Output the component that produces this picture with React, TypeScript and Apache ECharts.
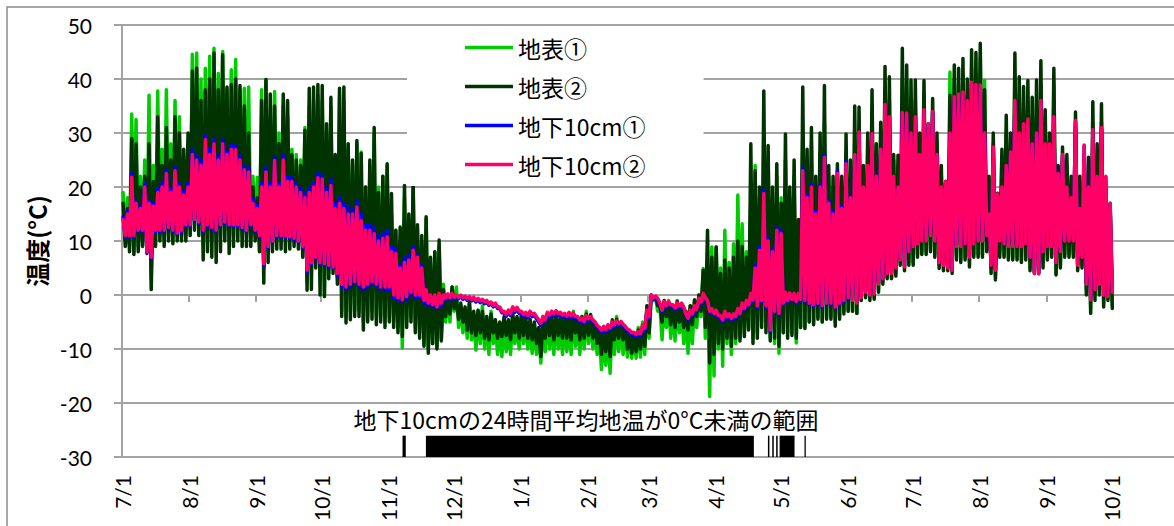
import React, { useEffect, useRef } from "react";
import * as echarts from "echarts";

// day index: 0 = 7/1 (year 1); one hi/lo pair per 2 days (k -> days 2k, 2k+1)
const MONTH_DAYS = [0, 31, 62, 92, 123, 153, 184, 215, 243, 274, 304, 335, 365, 396, 427, 457];
const MONTH_LABELS = ["7/1", "8/1", "9/1", "10/1", "11/1", "12/1", "1/1", "2/1", "3/1", "4/1", "5/1", "6/1", "7/1", "8/1", "9/1", "10/1"];
const Y_TICKS = [-30, -20, -10, 0, 10, 20, 30, 40, 50];

const SERIES_NAMES = ["地表①", "地表②", "地下10cm①", "地下10cm②"];
const SERIES_COLORS = ["#00cc00", "#003300", "#0000ff", "#ff0066"];

// 地表①
const G_HI = [
  19, 18, 33.5, 32.5, 22, 25, 37, 24, 37.8, 27, 38, 28, 36, 33, 24, 27,
  44.6, 44.8, 40, 42, 44.2, 45.7, 41, 45.1, 38, 41.7, 43.6, 38, 38.3, 38.5, 22,
  21.8, 38, 39.9, 32, 37.7, 30, 35, 33, 27, 26, 25, 31, 35, 36, 37,
  36, 30, 35, 25, 37, 36, 27, 24, 28, 26.5, 20, 24, 30, 20, 22, 24,
  15, 12, 10, 18, 14, 20, 12, 10, 14, 6, 8, 9, 2, 0, 1.5,
  1.5, -2, -3, -1, -4, -3, -2, -4, -3, -5, -6, -5, -6, -4, -5,
  -4, -5, -6, -6, -7, -5, -4, -5, -4, -5, -4, -5, -3, -5, -4, -3,
  -4, -6, -7, -8, -7, -5, -4, -5, -6, -7, -7, -6, -5, -2,
  0, -0.5, -2, -1, -1, -2, -1, -2, -3, -2, -1, 0, 4.9, 3, 8.9,
  8.9, 5, 12, 6, 9.5, 18.5, 13.2, 8, 18, 24, 18, 30, 25, 15, 22, 18,
  25, 18, 22, 12, 30, 25, 28, 20, 26, 32, 22, 20, 22, 20, 26,
  22, 30, 30, 22, 27, 34, 26, 30, 38, 36, 25, 24, 40, 40, 36,
  36, 28, 37, 30, 34, 28, 22, 21, 41.3, 40, 39, 41, 37, 42, 41,
  44, 39.7, 20, 28, 18.9, 25, 30, 28, 40, 37, 34, 36, 33, 36, 39,
  31, 27, 39, 22, 25, 24, 20, 31, 20, 24, 22, 32, 25, 32, 18, 16,
];
const G_LO = [
  10, 9, 8, 9, 10, 9, 3, 10, 11, 10, 11, 10, 11, 11, 11, 12,
  13, 12, 9, 10, 10, 11, 11, 12, 10, 11, 12, 11, 11, 11, 12,
  10, 5, 8, 9, 10, 10, 10, 10, 10, 10, 8, 2.5, 4, 6, 3,
  0, 4, 5, 3, -3, -4, -3, -3, -3, -5, -4, -3, -4, -4, -5, -4,
  -5, -6, -9.8, -5, -4, -6, -7, -9, -10, -9, -9.5, -8, -5, -5, -3,
  -6, -7, -8, -8.3, -10.2, -9, -10, -11, -9, -11, -11.4, -10.5, -11, -9, -10,
  -9, -10, -10.8, -11, -12.6, -10.5, -10, -11, -10, -11, -10.5, -11, -9.5, -11, -10, -9,
  -10, -11, -13.8, -13, -14.5, -11, -10.5, -11, -11.5, -11.7, -11.7, -11.5, -11, -8,
  -1, -3, -8.3, -6, -8, -8.5, -7, -9, -10.8, -9, -6, -4, -8, -18.8, -15,
  -10, -13.2, -9, -11, -9, -8, -7, -6, -8, -7, -5, -6, -8, -9, -10.8, -7,
  -7, -7, -8.9, -6, -6, -5, -5, -4, -5, -4, -4, -5, -4, -3, -3,
  -3, -3.4, -1, 0, -0.4, -0.4, 1, 2.5, 3.3, 3.3, 4, 6, 5, 6, 6,
  7.5, 8, 8, 8.5, 7.5, 5.5, 5, 5, 4.5, 7, 6.5, 7, 6, 7.5, 7.5,
  7.5, 8.5, 5, 3.5, 8, 7.5, 7, 7, 7, 6.5, 7, 5, 4.5, 4.5, 6,
  7, 7.5, 4, 5.5, 7.5, 7.5, 7.5, 5, 5.5, 1, -2.5, 0, 1, -1.5, -0.5, -2,
];

// 地表②
const D_HI = [
  17, 16, 29, 28, 20, 22, 28, 21, 33, 24, 31, 25, 33, 30, 27, 30,
  41.5, 42, 36, 38, 40, 44.8, 38, 44.5, 38.5, 39, 40, 38.8, 35, 30, 20,
  18, 36, 39.9, 37.2, 35, 28, 37.2, 36, 26, 25, 24, 30.5, 38.3, 38.5, 39,
  38.8, 31.7, 36.6, 26, 38.3, 38.5, 28, 25, 28.6, 26.2, 20, 25, 31, 19, 22, 24.3,
  18.8, 12, 12.6, 20.3, 15, 21.2, 13, 11, 14.5, 7, 8, 10.2, 1, -0.5, 1.5,
  -1, -1.5, -2.2, -1.5, -3, -2.8, -3, -4, -3.5, -4.6, -5, -4, -4.6, -3.4, -4,
  -3.5, -4, -4.5, -5, -6, -4, -3.5, -4, -3.4, -4, -3.6, -4, -3.4, -4.6, -4, -3.5,
  -3.6, -5, -6, -6.5, -6, -4.6, -4.5, -5, -6, -7, -7, -6.5, -6, -2,
  0, -0.3, -2, -1, -1.5, -2, -1.2, -2, -3, -2, -0.9, 0, 4.6, 12, 7,
  8.9, 4, 6.5, 5, 7, 10, 9, 7, 28, 23, 20, 37.8, 27.7, 20, 24.3, 17,
  29.8, 20, 25, 14, 38.5, 27, 31, 22, 30, 38.8, 24, 22, 24.3, 22, 29.8,
  25, 35, 34.8, 24, 30, 38, 28, 32, 42.3, 40.4, 26, 25.9, 45.7, 42.6, 39.8,
  39.8, 30, 39.7, 31.7, 36.4, 30, 24, 21, 37, 42.6, 42, 43.8, 40, 45.4, 44.9,
  46.6, 38, 22, 30, 18.8, 27, 33.3, 30, 44.8, 40.4, 38.6, 39.7, 36.6, 39.8, 43.4,
  34.3, 30, 42, 24, 27.4, 26, 22, 33.9, 22, 26, 25.5, 35.8, 28, 35.4, 20, 17,
];
const D_LO = [
  9, 8, 7.5, 8, 9, 8, 1, 9, 10, 9, 10, 9.5, 10, 10, 10, 11,
  12, 11, 6.5, 8, 7, 6, 8, 10, 7.7, 9, 10, 9, 9, 9, 10,
  8, 2.2, 6, 8, 8.5, 8.5, 8, 8.5, 9, 8.5, 7, 0.9, 1, 5, 0,
  -0.3, 3, 4, 2, -4, -5.2, -4.6, -4, -4, -6.5, -5, -4.5, -5.5, -5, -6, -5,
  -6, -7, -7.7, -6, -5, -7, -8, -9.5, -10.8, -9, -10, -8.5, -4, -3.5, -2.5,
  -4.5, -5, -6.5, -7, -7.5, -7, -8, -8.3, -7, -8, -7.7, -7.5, -8.3, -7, -8,
  -7.5, -8, -8.3, -9, -11.4, -8, -7.5, -8.3, -7.5, -8, -8, -8.3, -7, -8.3, -8, -7.5,
  -8, -9, -11, -10.5, -11.4, -8.3, -8, -8.3, -10, -10.8, -10.5, -10, -9.5, -7,
  -0.8, -2, -5, -4, -5.5, -6, -5, -6, -6.5, -5.5, -4, -3, -6, -12.6, -11,
  -9, -10, -8, -9.5, -8, -8.5, -7.7, -6.5, -9, -8, -6, -7, -8.5, -8, -9.5, -7,
  -8, -7.5, -8, -6, -6.2, -5, -5.5, -4.5, -5, -4.5, -4.5, -5.8, -4.5, -3.5, -3,
  -3, -3.4, -1, -0.5, -1, -0.8, 0.5, 2, 3, 3, 3.5, 5.5, 4.5, 5.5, 5.5,
  7, 7.5, 7.5, 8, 7, 4.9, 4.5, 4.5, 4, 6.5, 6, 6.5, 5.2, 7, 7,
  7, 8, 4, 2.8, 7, 7, 6.5, 6.5, 6.5, 6, 6.5, 4.5, 4, 4, 5,
  6.5, 7, 3.7, 5, 7, 7, 7, 4.5, 5, 0, -3.4, -1, 0, -2.2, -1, -2.5,
];

// 地下10cm①
const B_HI = [
  14.5, 15.5, 22.5, 17.5, 16.5, 20.8, 17.5, 17, 19.7, 20.7, 23.2, 19.6, 23.7, 20.6, 19.2, 20.7,
  27, 26, 25, 29.5, 27, 28.8, 25.8, 28.8, 26.8, 27.8, 27.6, 25.8, 24, 23.6, 17.8,
  16.8, 20.8, 23.6, 20.8, 25.6, 20.8, 25.8, 21.8, 21.8, 20.8, 19.8, 18.8, 19.8, 20.8, 22.5,
  22.3, 20, 21.5, 17, 18, 17, 16.5, 16, 17.5, 15, 13, 13, 12.5, 11, 11.5, 12,
  9, 8.5, 5.5, 7, 7.5, 9, 7.5, 5.5, 1, -0.3, -0.5, 0, -0.3, 0, 0,
  -0.3, -0.3, -0.5, -0.6, -0.7, -0.9, -1.1, -1.3, -1.6, -1.8, -2.5, -3.3, -3.1, -2.5, -2.6,
  -3.3, -3.5, -3.3, -3.7, -5, -4.4, -3.5, -3.3, -3.2, -3.5, -3.7, -3.5, -3.7, -4.3, -4.6, -4.1,
  -4.3, -5.3, -6.3, -6.1, -5.8, -5.3, -5.1, -5.2, -6.1, -6.8, -7.2, -7.1, -5.8, -3.1,
  -0.3, -0.5, -1.8, -1.5, -1.5, -2.1, -1.8, -1.8, -3.8, -3.1, -2.3, -0.9, 0, -1.3, -2.8,
  -3.1, -4.1, -3.3, -3.8, -3.8, -2.8, -1.8, -1.3, 0, 5.5, 9, 19.5, 10.5, 8.5, 12.5, 12,
  0.3, 0.2, 0, 0, 23.5, 18.5, 20.5, 15.5, 20.5, 26, 17.5, 15.5, 23, 16.5, 24.7,
  17.8, 25.8, 30, 19.8, 23.8, 29.7, 21.8, 26.8, 35, 32.8, 21.8, 19.8, 33.5, 33.5, 29.8,
  32.8, 25.8, 34, 31.5, 33.8, 25.8, 19.8, 20.8, 29.8, 36.5, 37, 37.4, 35.8, 39.2, 38.8,
  38.7, 29.8, 14.8, 27.2, 18.5, 19.8, 23.8, 26.3, 35.8, 29.8, 31.5, 32.4, 27.8, 29.8, 35.8,
  27.8, 27.8, 32.8, 22.3, 25.8, 19.8, 17.8, 32, 15.8, 27.6, 19.8, 30.4, 21.8, 30.8, 21.8, 16.8,
];
const B_LO = [
  10.7, 10.7, 10.7, 11.7, 11.7, 7.7, 6.7, 11.7, 11.7, 11.7, 12.2, 11.7, 11.2, 11.7, 12.7, 12.7,
  13.7, 13.2, 11.7, 12.7, 12.2, 11.7, 12.7, 13.2, 12.7, 12.7, 12.7, 12.2, 11.7, 12.7, 11.7,
  10.7, 5.5, 8.7, 9.7, 10.7, 10.7, 10.7, 10.5, 10.2, 9.7, 8.7, 4.3, 5.7, 6.7, 5.7,
  5.5, 5, 5, 3.5, 1.5, 1, 1.5, 2, 1.5, 1, 1.5, 2, 1.5, 1, 1, 1,
  -0.5, -1, -1.3, -1, 0, -0.5, -0.5, -1.5, -2, -2.2, -2.5, -2, -1, -0.8, -0.7,
  -0.7, -0.8, -1, -1.1, -1.3, -1.4, -1.6, -1.9, -2.2, -2.5, -3.3, -4, -3.8, -3.2, -3.4,
  -4, -4.2, -4, -4.4, -5.6, -5, -4.1, -3.9, -3.8, -4.1, -4.3, -4.2, -4.4, -5, -5.3, -4.8,
  -5, -6, -6.9, -6.8, -6.5, -5.9, -5.7, -5.8, -6.7, -7.4, -7.7, -7.6, -6.6, -4.4,
  -0.8, -0.9, -3.1, -2.3, -2.1, -2.7, -2.3, -2.5, -4.6, -3.8, -2.9, -1.6, -0.8, -3.3, -3.7,
  -4.1, -5, -4.4, -4.6, -4.4, -3.7, -2.8, -2.1, -1.2, -2.3, -1.3, -2.3, -6.8, -3.3, -3.7, -1.8,
  -1.2, -1, -1.5, -1.1, -1.3, -1.8, -2, -1.8, -2.3, -1.8, -1.8, -2.5, -1.8, -1.3, -0.8,
  -0.8, -1.3, -0.3, 0.7, 0.2, 0.4, 2.2, 3.2, 4.2, 4.2, 5.2, 6.7, 5.4, 8.2, 9.2,
  9.7, 10.2, 10.2, 11.2, 10.2, 6.2, 5.7, 5.2, 4.8, 9.2, 9.2, 9.7, 7.2, 9.7, 10.2,
  10.2, 11.2, 5.7, 4.8, 10.2, 9.7, 9.2, 9.2, 9.2, 9.2, 9.7, 7.2, 4.2, 4.1, 8.2,
  9.2, 9.2, 6.2, 8.2, 10.2, 10.2, 10.2, 5.7, 7.2, 2.2, -0.7, 1.2, 2.2, 0.2, -0.1, 0.7,
];

// 地下10cm②
const P_HI = [
  14, 15, 21.8, 17, 16, 20, 17, 16.5, 19, 20, 22.5, 19, 23, 20, 18.5, 20,
  26, 25, 24, 28.8, 26, 28, 25, 28, 26, 27, 26.9, 25, 23.2, 22.8, 17,
  16, 20, 22.8, 20, 24.9, 20, 25, 21, 21, 20, 19, 18, 19, 20, 21.7,
  21.5, 19, 20.3, 16, 17, 16, 15, 15, 16.3, 13.8, 12, 12, 11.4, 10, 10.5, 10.8,
  8, 7.7, 5, 6, 6.5, 8.3, 7, 5, 1, 0, 0, 0.3, 0, 0.2, 0.3,
  0, 0, -0.2, -0.3, -0.4, -0.6, -0.8, -1, -1.3, -1.5, -2.2, -3, -2.8, -2.2, -2.3,
  -3, -3.2, -3, -3.4, -4.6, -4, -3.2, -3, -2.9, -3.2, -3.4, -3.2, -3.4, -4, -4.3, -3.8,
  -4, -5, -6, -5.8, -5.5, -5, -4.8, -4.9, -5.8, -6.5, -6.9, -6.8, -5.5, -2.8,
  0, -0.2, -1.5, -1.2, -1.2, -1.8, -1.5, -1.5, -3.5, -2.8, -2, -0.6, 0.3, -1, -2.5,
  -2.8, -3.8, -3, -3.5, -3.5, -2.5, -1.5, -1, 0.3, 5, 8.3, 18.8, 10, 8, 12, 11.4,
  0.5, 0.4, 0.3, 0.3, 23, 18, 20, 15, 20, 25.5, 17, 15, 22.5, 16, 24.3,
  18, 26, 30.2, 20, 24, 29.9, 22, 27, 35.3, 33, 22, 20, 33.8, 33.7, 30,
  33, 26, 34.3, 31.7, 34, 26, 20, 21, 30, 36.7, 37.2, 37.6, 36, 39.4, 39,
  38.9, 30, 15, 27.4, 18.7, 20, 24, 26.5, 36, 30, 31.7, 32.6, 28, 30, 36,
  28, 28, 33, 22.5, 26, 20, 18, 32.3, 16, 27.8, 20, 30.6, 22, 31, 22, 17,
];
const P_LO = [
  11, 11, 11, 12, 12, 8, 7, 12, 12, 12, 12.5, 12, 11.5, 12, 13, 13,
  14, 13.5, 12, 13, 12.5, 12, 13, 13.5, 13, 13, 13, 12.5, 12, 13, 12,
  11, 5.8, 9, 10, 11, 11, 11, 10.8, 10.5, 10, 9, 4.6, 6, 7, 6,
  5.8, 5.5, 5.2, 4, 2, 1.5, 2, 2.5, 2, 1.5, 2, 2.5, 2, 1.5, 1.5, 1.5,
  0, -0.5, -0.9, -0.3, 0.5, 0, 0, -1, -1.5, -1.8, -2.2, -1.5, -0.6, -0.5, -0.4,
  -0.4, -0.5, -0.7, -0.8, -1, -1.1, -1.3, -1.6, -1.9, -2.2, -3, -3.6, -3.4, -2.8, -3,
  -3.6, -3.8, -3.6, -4, -5.2, -4.6, -3.7, -3.5, -3.4, -3.7, -3.9, -3.8, -4, -4.6, -4.9, -4.4,
  -4.6, -5.6, -6.5, -6.4, -6.1, -5.5, -5.3, -5.4, -6.3, -7, -7.3, -7.2, -6.2, -4,
  -0.5, -0.6, -2.8, -2, -1.8, -2.4, -2, -2.2, -4.3, -3.5, -2.6, -1.3, -0.5, -3, -3.4,
  -3.8, -4.6, -4, -4.3, -4, -3.4, -2.5, -1.8, -0.9, -2, -1, -2, -6.5, -3, -3.4, -1.5,
  -1, -0.8, -1.2, -0.8, -1, -1.5, -1.8, -1.5, -2, -1.5, -1.5, -2.2, -1.5, -1, -0.5,
  -1, -1.5, -0.5, 0.5, 0, 0.2, 2, 3, 4, 4, 5, 6.5, 5.2, 8, 9,
  9.5, 10, 10, 11, 10, 6, 5.5, 5, 4.6, 9, 9, 9.5, 7, 9.5, 10,
  10, 11, 5.5, 4.6, 10, 9.5, 9, 9, 9, 9, 9.5, 7, 4, 3.9, 8,
  9, 9, 6, 8, 10, 10, 10, 5.5, 7, 2, -0.9, 1, 2, 0, -0.3, 0.5,
];

// days where the 24h mean at 10cm was below 0°C
const FROZEN_RANGES = [
  [129.6, 131.1],
  [140.4, 291.9],
  [298.4, 299.1],
  [300.4, 301.1],
  [302.2, 302.9],
  [303.8, 310.7],
  [315.3, 315.9],
];
const FROZEN_TOP = -26.05;
const ANNOTATION = "地下10cmの24時間平均地温が0°C未満の範囲";

const CJK = "'Noto Sans CJK JP', 'Noto Sans', sans-serif";
const LATIN = "Lato, 'Liberation Sans', sans-serif";
const GRAY = "#a3a3a3";

function zig(hi: number[], lo: number[]) {
  const out: number[][] = [];
  for (let k = 0; k < hi.length; k++) {
    out.push([2 * k + 0.5, hi[k]]);
    out.push([2 * k + 1.5, lo[k]]);
  }
  return out;
}

export default function App() {
  const ref = useRef<HTMLDivElement>(null);
  useEffect(() => {
    const chart = echarts.init(ref.current!, null, { renderer: "svg" });
    const pairs = [
      [G_HI, G_LO],
      [D_HI, D_LO],
      [B_HI, B_LO],
      [P_HI, P_LO],
    ];
    const series: any[] = pairs.map(([hi, lo], i) => ({
      name: SERIES_NAMES[i],
      type: "line",
      xAxisIndex: 0,
      yAxisIndex: 0,
      data: zig(hi, lo),
      symbol: "none",
      showSymbol: false,
      color: SERIES_COLORS[i],
      lineStyle: { width: 3.5, color: SERIES_COLORS[i], join: "round", cap: "round" },
      silent: true,
      z: 2 + i,
    }));
    series.push({
      name: "frozen",
      type: "line",
      xAxisIndex: 0,
      yAxisIndex: 0,
      data: [],
      silent: true,
      markArea: {
        silent: true,
        itemStyle: { color: "#000", borderWidth: 0 },
        label: { show: false },
        data: FROZEN_RANGES.map(([a, b]) => [
          { xAxis: a, yAxis: -30 },
          { xAxis: b, yAxis: FROZEN_TOP },
        ]),
      },
    });

    chart.setOption({
      animation: false,
      backgroundColor: "#fff",
      grid: { left: 122, top: 25, right: 0, bottom: 69, containLabel: false },
      legend: {
        data: SERIES_NAMES,
        orient: "vertical",
        left: 407,
        top: 28,
        backgroundColor: "#fff",
        padding: [8, 58, 10, 58],
        itemGap: 16,
        itemWidth: 48,
        itemHeight: 3.5,
        icon: "rect",
        selectedMode: false,
        textStyle: { fontSize: 23, fontFamily: CJK, color: "#000", lineHeight: 22 },
      },
      xAxis: [
        {
          type: "value",
          min: 0,
          max: 486,
          position: "bottom",
          axisLine: { show: true, onZero: true, lineStyle: { color: GRAY, width: 2 } },
          axisTick: { show: true, customValues: MONTH_DAYS, length: 7, lineStyle: { color: GRAY, width: 2 } },
          axisLabel: { show: false },
          splitLine: { show: false },
        },
        {
          type: "value",
          min: 0,
          max: 486,
          position: "bottom",
          axisLine: { show: false, onZero: false },
          axisTick: { show: false },
          splitLine: { show: false },
          axisLabel: {
            show: true,
            customValues: MONTH_DAYS,
            rotate: 90,
            margin: 18,
            fontSize: 21,
            fontFamily: LATIN,
            color: "#000",
            formatter: (v: number) => {
              const i = MONTH_DAYS.indexOf(v);
              return i >= 0 ? MONTH_LABELS[i] : "";
            },
          },
        },
      ],
      yAxis: {
        type: "value",
        min: Y_TICKS[0],
        max: Y_TICKS[Y_TICKS.length - 1],
        interval: 10,
        name: "温度(°C)",
        nameLocation: "middle",
        nameGap: 72,
        nameRotate: 90,
        nameTextStyle: { fontSize: 24, fontWeight: "bold", fontFamily: CJK, color: "#000" },
        axisLine: { show: true, lineStyle: { color: GRAY, width: 2 } },
        axisTick: { show: true, length: 8, lineStyle: { color: GRAY, width: 2 } },
        axisLabel: { margin: 30, fontSize: 21, fontFamily: LATIN, color: "#000" },
        splitLine: { show: true, lineStyle: { color: GRAY, width: 2 } },
      },
      graphic: [
        {
          type: "rect",
          shape: { x: 7, y: 7, width: 1200, height: 560 },
          style: { fill: "none", stroke: "#8c8c8c", lineWidth: 1.5 },
          silent: true,
          z: -10,
        },
        {
          type: "text",
          x: 586,
          y: 419,
          style: {
            text: ANNOTATION,
            fontSize: 23,
            fontFamily: CJK,
            fill: "#000",
            align: "center",
            verticalAlign: "middle",
          },
          silent: true,
          z: 10,
        },
      ],
      series,
    });
    return () => chart.dispose();
  }, []);
  return (
    <div
      ref={ref}
      style={{ position: "fixed", left: 0, top: 0, width: 1174, height: 526, background: "#fff" }}
    />
  );
}
